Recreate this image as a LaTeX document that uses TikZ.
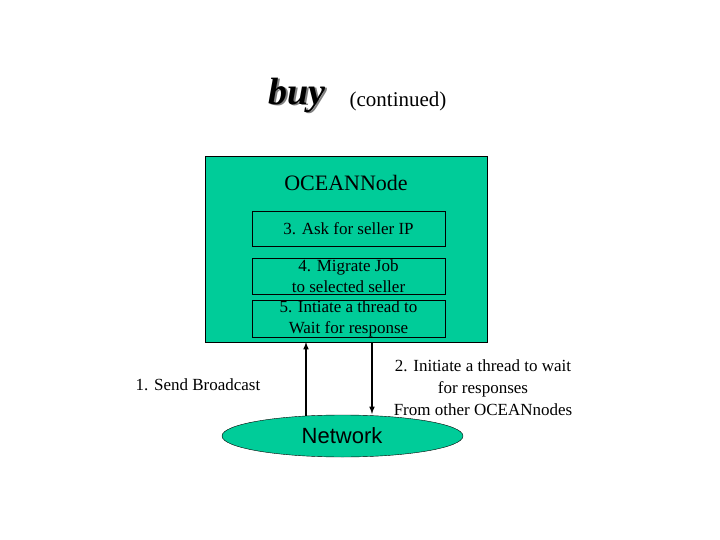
\documentclass[tikz,border=0pt]{standalone}
\usepackage{fontspec}
\setmainfont{Liberation Serif}
\newfontfamily\arialfont{Liberation Sans}
\newfontfamily\titlefont[BoldItalicFont={Liberation Serif Bold Italic}]{Liberation Serif}
\usetikzlibrary{shapes.geometric}
\definecolor{oceangreen}{RGB}{0,204,153}
\tikzset{
    stepbox/.style={draw, minimum width=193pt, align=center, inner sep=0pt, font=\fontsize{17}{21}\selectfont},
    plain/.style={align=center, font=\fontsize{17}{22}\selectfont}
}
\begin{document}
\begin{tikzpicture}[x=1pt, y=-1pt, >=latex]
        \useasboundingbox (0,0) rectangle (720,540);

        % title
        \node (title) at (297,96) [font=\titlefont\fontsize{38}{40}\selectfont\bfseries\itshape] {\rlap{\kern1.5pt\raisebox{-1.5pt}{\textcolor{gray}{buy}}}buy};
        \node (cont) at (398,101) [font=\fontsize{21}{24}\selectfont] {(continued)};

        % the node box
        \node (ocean) [draw, fill=oceangreen, minimum width=282pt, minimum height=186pt, inner sep=0pt] at (346,249) {};
        \node (oceanlabel) at (346,183) [font=\fontsize{22}{24}\selectfont] {OCEANNode};
        \node (ask) [stepbox, minimum height=35pt] at (348.5,228.5) {3. Ask for seller IP};
        \node (migrate) [stepbox, minimum height=36pt] at (348.5,276) {4. Migrate Job\\to selected seller};
        \node (thread) [stepbox, minimum height=37pt] at (348.5,318.5) {5. Intiate a thread to\\Wait for response};

        % network and texts beside it
        \node (network) [draw, ellipse, fill=oceangreen, minimum width=241pt, minimum height=42pt, inner sep=0pt] at (342.5,436) {};
        \node (netlabel) at (342,436) [font=\arialfont\fontsize{22}{24}\selectfont] {Network};
        \node (broadcast) [plain] at (198,385) {1. Send Broadcast};
        \node (wait) [plain] at (483,388) {2. Initiate a thread to wait\\for responses\\From other OCEANnodes};

        % up and down links
        \draw[->, line width=1.5pt] (306,416) -- (306,342);
        \draw[->, line width=1.5pt] (372,342) -- (372,414);
\end{tikzpicture}
\end{document}
